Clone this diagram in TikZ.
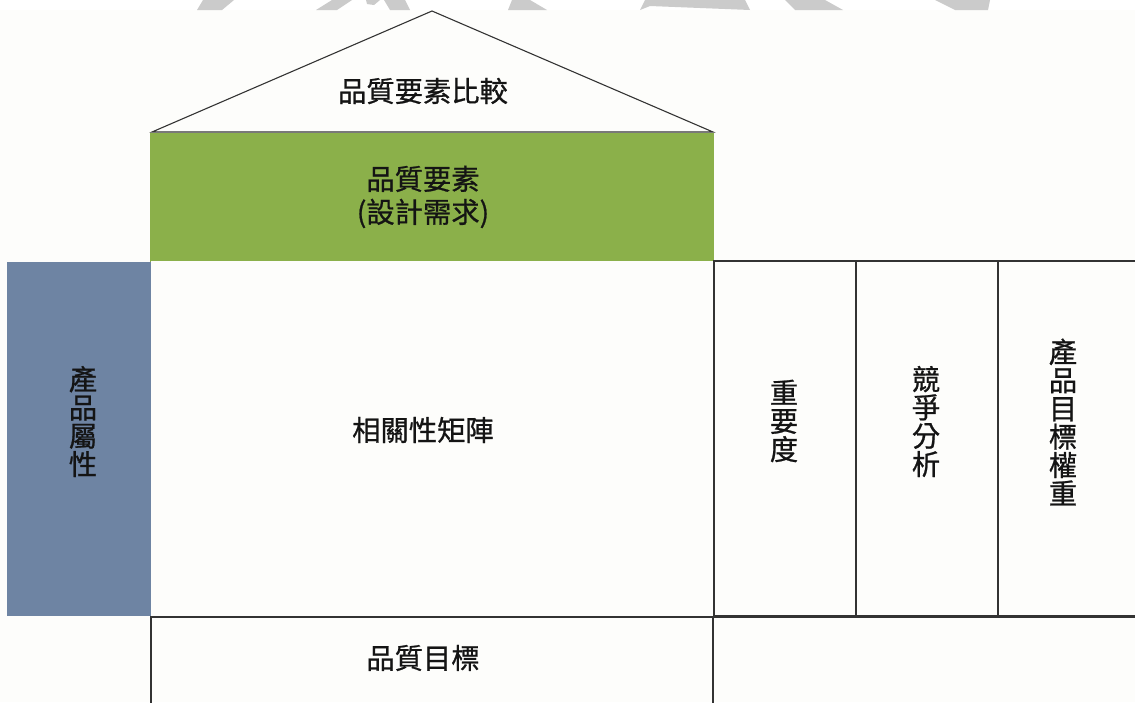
\documentclass[tikz,border=0pt]{standalone}
\usepackage{fontspec}
\setmainfont{Noto Sans CJK TC}
\newfontfamily\lblfamily{Noto Sans CJK TC}[FakeBold=0.8]
\definecolor{qgreen}{HTML}{8BB04A}
\definecolor{qblue}{HTML}{6E84A3}
\definecolor{qline}{HTML}{333333}
\definecolor{qbg}{HTML}{FDFDFB}
\definecolor{qwm}{HTML}{CBCBCB}
\tikzset{
  cell/.style={draw=qline, line width=1.1pt, inner sep=0pt},
  lbl/.style={font=\lblfamily\fontsize{28.3}{28.3}\selectfont, align=center, inner sep=0pt, text=black!92},
  wm/.style={fill=qwm, draw=none}
}
\begin{document}
\begin{tikzpicture}[x=1pt,y=-1pt]
\useasboundingbox (0,0) rectangle (1135,702);
\fill[white] (0,0) rectangle (1135,10);
\fill[qbg] (0,10) rectangle (1135,702);
% watermark remnants
\fill[wm] (203,0) -- (234,0) -- (222,10) -- (197,10) -- cycle;
\fill[wm] (332,0) -- (352,0) -- (337,10) -- (316,10) -- cycle;
\fill[wm] (366,0) -- (380,0) -- (374,5) -- (367,4) -- cycle;
\fill[wm] (384,0) -- (405,0) -- (410,10) -- (390,10) -- cycle;
\fill[wm] (512,0) -- (530,0) -- (547,10) -- (508,10) -- cycle;
\fill[wm] (645,0) -- (745,0) -- (750,10) -- (700,8) -- (650,6) -- (640,10) -- cycle;
\fill[wm] (785,0) -- (825,0) -- (843,10) -- (795,10) -- cycle;
\fill[wm] (935,0) -- (990,0) -- (988,10) -- (955,10) -- cycle;

% roof
\coordinate (roofL) at (152,132);
\coordinate (roofR) at (713,132);
\coordinate (apex) at (432,11);
\draw[qline, line width=1.1pt, line join=miter] (roofL) -- (apex) -- (roofR) -- cycle;
\node[lbl] (cmp) at (423,91) {品質要素比較};

% design requirements
\node[fill=qgreen, draw=none, minimum width=564pt, minimum height=129pt, inner sep=0pt] (req) at (432,197) {};
\node[lbl, font=\lblfamily\fontsize{28.3}{33}\selectfont] (reqt) at (423,197) {品質要素\\(設計需求)};

% product attributes
\node[fill=qblue, draw=none, minimum width=143.5pt, minimum height=354pt, inner sep=0pt] (attr) at (78.75,439) {};
\node[lbl] (attrt) at (83,421.5) {產\\品\\屬\\性};

% relationship matrix
\node[fill=qbg, draw=none, minimum width=563pt, minimum height=355pt, inner sep=0pt] (mat) at (432,438.5) {};
\node[lbl] (matt) at (423,430) {相關性矩陣};

% right columns
\node[cell, minimum width=142pt, minimum height=355pt] (imp) at (785,438.5) {};
\node[cell, minimum width=142pt, minimum height=355pt] (comp) at (927,438.5) {};
\node[cell, minimum width=142pt, minimum height=355pt] (wt) at (1069,438.5) {};
\node[lbl] (impt) at (784,421) {重\\要\\度};
\node[lbl] (compt) at (926,421.5) {競\\爭\\分\\析};
\node[lbl] (wtt) at (1063,422) {產\\品\\目\\標\\權\\重};

% quality targets
\node[cell, minimum width=562pt, minimum height=90pt] (tgt) at (432,662) {};
\node[lbl] (tgtt) at (423,658) {品質目標};
\node[cell, minimum width=430pt, minimum height=90pt] (blank) at (928,662) {};
\end{tikzpicture}
\end{document}
